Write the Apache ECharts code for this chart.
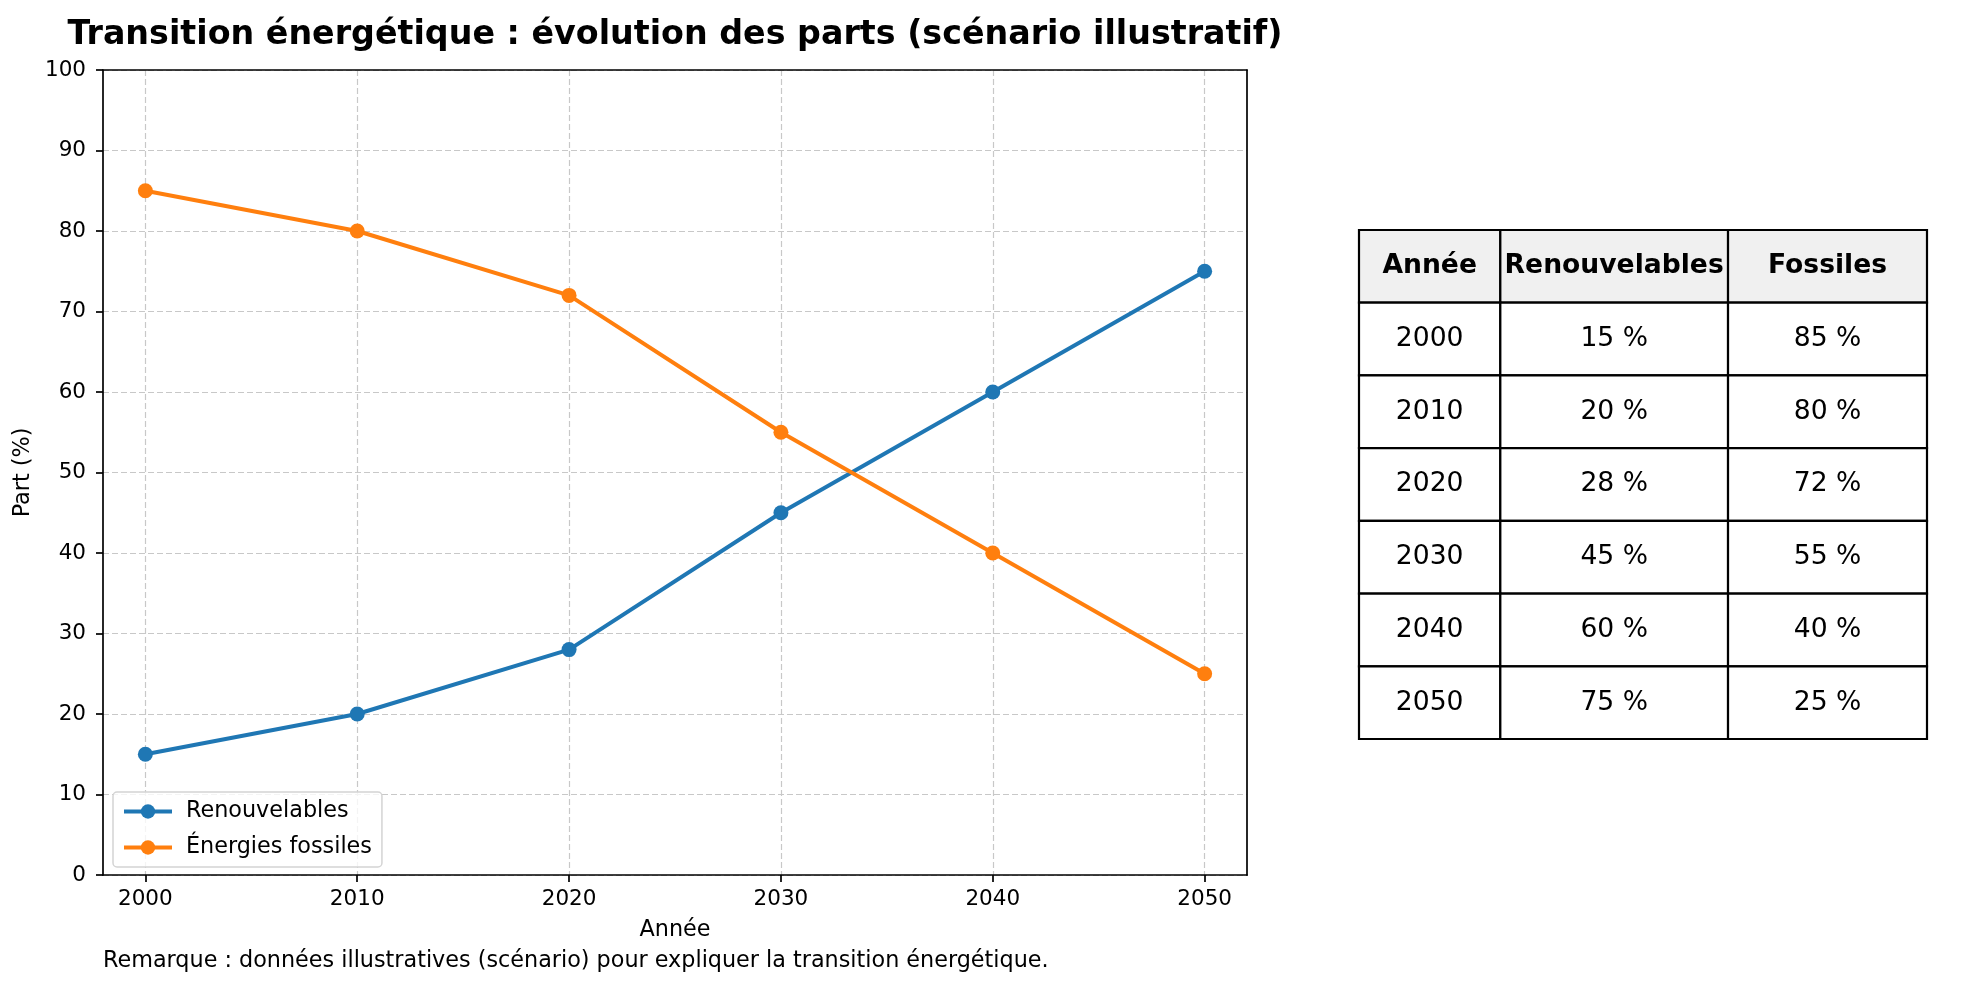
<!doctype html>
<html>
<head>
    <meta charset="utf-8">
    <title>Transition énergétique</title>
    <style type="text/css">
        body, html {
            width: 100%;
            height: 100%;
            margin: 0;
            padding: 0;
            background: #fff;
        }
    </style>
    <script src="https://cdn.jsdelivr.net/npm/echarts@6.0.0/dist/echarts.min.js"></script>
</head>
<body>
<div id="container" style="width: 1970px; height: 986px"></div>
<script type="text/javascript">
    // données du scénario
    const years = [2000, 2010, 2020, 2030, 2040, 2050];
    const renouvelables = [15, 20, 28, 45, 60, 75];
    const fossiles = [85, 80, 72, 55, 40, 25];
    const seriesNames = ['Renouvelables', 'Énergies fossiles'];
    const tableHeader = ['Année', 'Renouvelables', 'Fossiles'];
    const titleText = 'Transition énergétique : évolution des parts (scénario illustratif)';
    const noteText = 'Remarque : données illustratives (scénario) pour expliquer la transition énergétique.';

    const FONT = 'DejaVu Sans';
    const FS = 22.3;
    const colEdges = [0, 0.2488, 0.6497, 1]; // largeurs relatives des colonnes du tableau

    const dom = document.getElementById('container');
    const myChart = echarts.init(dom, null, {renderer: 'canvas'});

    const cellText = function (r, c) {
        if (r === 0) return tableHeader[c];
        const i = r - 1;
        if (c === 0) return String(years[i]);
        if (c === 1) return renouvelables[i] + ' %';
        return fossiles[i] + ' %';
    };

    const cells = [];
    for (let r = 0; r <= years.length; r++) {
        for (let c = 0; c < tableHeader.length; c++) {
            cells.push([c, r]);
        }
    }

    const renderCell = function (params, api) {
        const c = api.value(0);
        const r = api.value(1);
        const yc = api.coord([0, r])[1];
        const h = api.size([0, 1])[1];
        const xa = api.coord([colEdges[c], r])[0];
        const xb = api.coord([colEdges[c + 1], r])[0];
        return {
            type: 'group',
            children: [
                {
                    type: 'rect',
                    shape: {x: xa, y: yc - h / 2, width: xb - xa, height: h},
                    style: {fill: r === 0 ? '#f0f0f0' : '#ffffff', stroke: '#000', lineWidth: 2.2}
                },
                {
                    type: 'text',
                    x: (xa + xb) / 2,
                    y: yc,
                    style: {
                        text: cellText(r, c),
                        align: 'center',
                        verticalAlign: 'middle',
                        fontSize: 26.6,
                        fontWeight: r === 0 ? 'bold' : 'normal',
                        fontFamily: FONT,
                        fill: '#000'
                    }
                }
            ]
        };
    };

    const gridLine = {show: true, lineStyle: {color: '#c8c8c8', type: [6, 3], width: 1.2}};
    const blackLine = {color: '#000', width: 1.7};
    // axe sans graduations, juste pour fermer le cadre
    const frameAxis = {
        gridIndex: 0,
        type: 'value',
        axisLine: {show: true, onZero: false, lineStyle: blackLine},
        axisTick: {show: false},
        axisLabel: {show: false},
        splitLine: {show: false}
    };

    const option = {
        animation: false,
        backgroundColor: '#fff',
        textStyle: {fontFamily: FONT},
        graphic: [
            {
                type: 'text',
                x: 675,
                y: 35,
                style: {
                    text: titleText,
                    align: 'center',
                    verticalAlign: 'middle',
                    fontSize: 33.3,
                    fontWeight: 'bold',
                    fontFamily: FONT,
                    fill: '#000'
                }
            },
            {
                type: 'text',
                x: 103,
                y: 961,
                style: {
                    text: noteText,
                    align: 'left',
                    verticalAlign: 'middle',
                    fontSize: FS,
                    fontFamily: FONT,
                    fill: '#000'
                }
            }
        ],
        legend: {
            orient: 'vertical',
            left: 113,
            top: 792,
            data: seriesNames,
            itemWidth: 48,
            itemHeight: 18,
            itemGap: 11,
            padding: [7, 10, 7, 9],
            backgroundColor: 'rgba(255,255,255,0.8)',
            borderColor: '#d4d4d4',
            borderWidth: 1.5,
            borderRadius: 4,
            lineStyle: {width: 4},
            textStyle: {fontSize: FS, color: '#000', fontFamily: FONT, lineHeight: 25, padding: [0, 0, 0, 9]}
        },
        grid: [
            {left: 103, top: 70, width: 1144, height: 805, show: false},
            {left: 1359, top: 230, width: 568, height: 509, show: false}
        ],
        xAxis: [
            {
                gridIndex: 0,
                type: 'value',
                min: 1998,
                max: 2052,
                name: 'Année',
                nameLocation: 'middle',
                nameGap: 44,
                nameTextStyle: {fontSize: FS, color: '#000'},
                axisLine: {show: true, onZero: false, lineStyle: blackLine},
                axisTick: {show: true, length: 7, customValues: years, lineStyle: blackLine},
                axisLabel: {fontSize: 21.5, color: '#000', margin: 13, customValues: years, formatter: v => String(v)},
                splitLine: gridLine
            },
            {gridIndex: 1, type: 'value', min: 0, max: 1, show: false},
            Object.assign({}, frameAxis, {position: 'top', min: 1998, max: 2052})
        ],
        yAxis: [
            {
                gridIndex: 0,
                type: 'value',
                min: 0,
                max: 100,
                interval: 10,
                name: 'Part (%)',
                nameLocation: 'middle',
                nameGap: 64,
                nameRotate: 90,
                nameTextStyle: {fontSize: FS, color: '#000'},
                axisLine: {show: true, lineStyle: blackLine},
                axisTick: {show: true, length: 7, lineStyle: blackLine},
                axisLabel: {fontSize: 21.5, color: '#000', margin: 17},
                splitLine: gridLine
            },
            {
                gridIndex: 1,
                type: 'category',
                inverse: true,
                data: ['entete'].concat(years.map(String)),
                show: false
            },
            Object.assign({}, frameAxis, {position: 'right', min: 0, max: 100})
        ],
        series: [
            {
                name: seriesNames[0],
                type: 'line',
                xAxisIndex: 0,
                yAxisIndex: 0,
                data: years.map((y, i) => [y, renouvelables[i]]),
                symbol: 'circle',
                symbolSize: 15,
                lineStyle: {width: 4, color: '#1f77b4'},
                itemStyle: {color: '#1f77b4'}
            },
            {
                name: seriesNames[1],
                type: 'line',
                xAxisIndex: 0,
                yAxisIndex: 0,
                data: years.map((y, i) => [y, fossiles[i]]),
                symbol: 'circle',
                symbolSize: 15,
                lineStyle: {width: 4, color: '#ff7f0e'},
                itemStyle: {color: '#ff7f0e'}
            },
            {
                type: 'custom',
                xAxisIndex: 1,
                yAxisIndex: 1,
                data: cells,
                encode: {x: 0, y: 1},
                silent: true,
                renderItem: renderCell
            }
        ]
    };

    myChart.setOption(option);
    window.addEventListener('resize', myChart.resize);
</script>
</body>
</html>
